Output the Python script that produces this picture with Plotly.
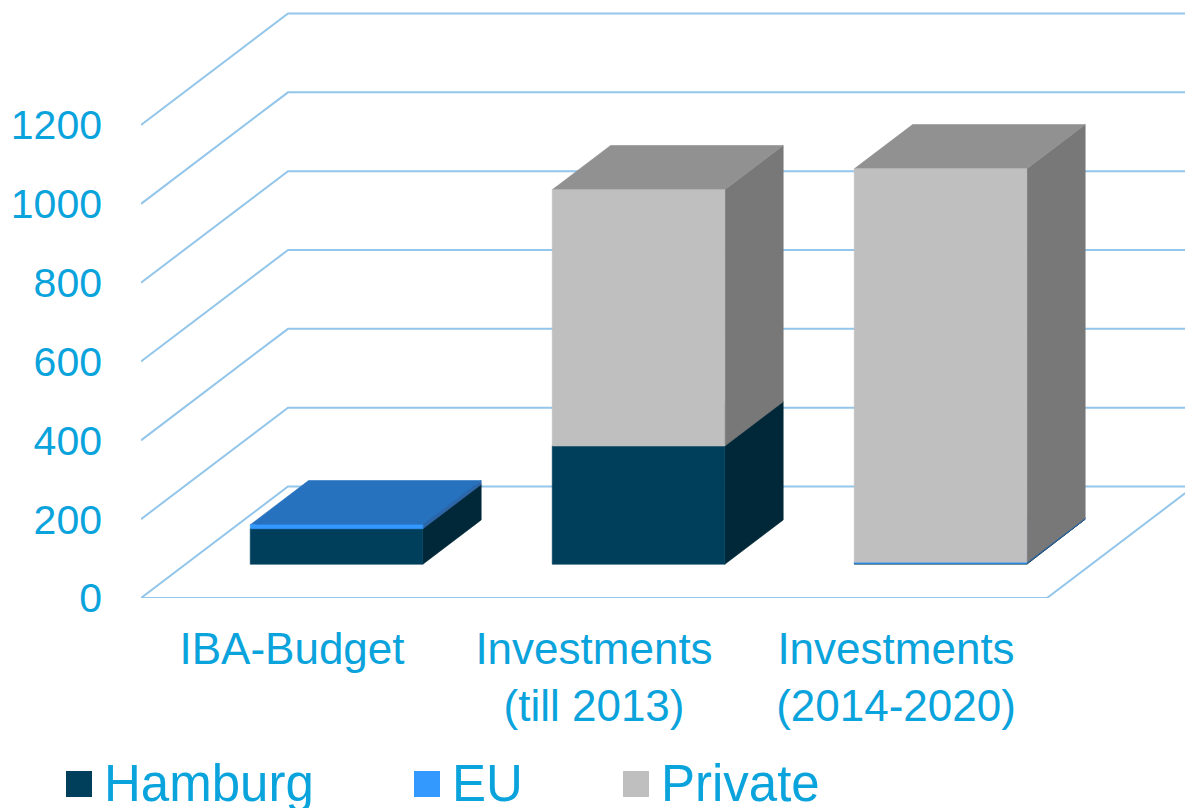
import plotly.graph_objects as go

categories = ["IBA-Budget", "Investments<br>(till 2013)", "Investments<br>(2014-2020)"]
series_names = ["Hamburg", "EU", "Private"]
hamburg = [90, 300, 2]
eu = [10, 0, 3]
private = [0, 650, 998]
y_ticks = [0, 200, 400, 600, 800, 1000, 1200]

TEXT = "#0AA3DC"
GRID = "#93C6EA"
front_col = {"Hamburg": "#003F5C", "EU": "#3399FF", "Private": "#BFBFBF"}
side_col = {"Hamburg": "#002838", "EU": "#2F66A8", "Private": "#787878"}
top_col = {"Hamburg": "#002838", "EU": "#2772BF", "Private": "#919191"}

W, H = 1185, 808
ML, MB = 141, 210
PX_X = 302.0
PX_Y = (598 - 125) / 1200
DX, DY = 147 / PX_X, 111.5 / PX_Y   # full depth of the 3D box in data units
XMIN, XMAX = -0.5, 2.5
D0, D1 = 0.303, 0.70                # bar depth extent
HALF = 86.3 / PX_X


def proj(x, y, d):
    return x + d * DX, y + d * DY


fig = go.Figure()

# Walls and floor
gx, gy = [], []
for v in y_ticks:
    a = proj(XMIN, v, 0)
    b = proj(XMIN, v, 1)
    c = proj(XMAX, v, 1)
    gx += [a[0], b[0], c[0], None]
    gy += [a[1], b[1], c[1], None]
a, b, c = proj(XMIN, 0, 0), proj(XMAX, 0, 0), proj(XMAX, 0, 1)
gx += [a[0], b[0], c[0]]
gy += [a[1], b[1], c[1]]
fig.add_trace(go.Scatter(x=gx, y=gy, mode="lines", line=dict(color=GRID, width=2),
                         cliponaxis=False, hoverinfo="skip", showlegend=False))

# Stacked 3D bars
stack = [0, 0, 0]
for name, vals in zip(series_names, [hamburg, eu, private]):
    fx, fy, sx, sy, tx, ty = [], [], [], [], [], []
    for i, v in enumerate(vals):
        if v == 0:
            continue
        y0, y1 = stack[i], stack[i] + v
        stack[i] = y1
        l, r = i - HALF, i + HALF
        pts = [proj(l, y0, D0), proj(r, y0, D0), proj(r, y1, D0), proj(l, y1, D0), proj(l, y0, D0)]
        fx += [p[0] for p in pts] + [None]
        fy += [p[1] for p in pts] + [None]
        pts = [proj(r, y0, D0), proj(r, y0, D1), proj(r, y1, D1), proj(r, y1, D0), proj(r, y0, D0)]
        sx += [p[0] for p in pts] + [None]
        sy += [p[1] for p in pts] + [None]
        pts = [proj(l, y1, D0), proj(r, y1, D0), proj(r, y1, D1), proj(l, y1, D1), proj(l, y1, D0)]
        tx += [p[0] for p in pts] + [None]
        ty += [p[1] for p in pts] + [None]
    for xs, ys, col in [(sx, sy, side_col[name]), (tx, ty, top_col[name]), (fx, fy, front_col[name])]:
        fig.add_trace(go.Scatter(x=xs, y=ys, mode="lines", fill="toself", fillcolor=col,
                                 line=dict(color=col, width=0.6), cliponaxis=False,
                                 name=name, hoverinfo="name", showlegend=False))

# Legend entries, one legend per entry so each sits at its own position
legend_x = [54, 402, 611]
legend_layout = {}
for k, name in enumerate(series_names):
    key = "legend" if k == 0 else f"legend{k + 1}"
    fig.add_trace(go.Scatter(x=[None], y=[None], mode="markers", name=name, legend=key,
                             marker=dict(symbol="square", size=16, color=front_col[name])))
    legend_layout[key] = dict(x=legend_x[k] / W, xref="container", y=1 - 741 / H, yref="container",
                              xanchor="left", yanchor="top", bgcolor="rgba(0,0,0,0)",
                              font=dict(family="Liberation Sans", size=51, color=TEXT),
                              itemwidth=40)

# Enlarged key squares behind the legend symbols
swatch_left = [66, 414, 623]
for k, name in enumerate(series_names):
    fig.add_shape(type="rect", xref="paper", yref="paper",
                  x0=(swatch_left[k] - ML) / (W - ML), x1=(swatch_left[k] + 26 - ML) / (W - ML),
                  y0=(598 - 797) / 598, y1=(598 - 771) / 598,
                  fillcolor=front_col[name], line_width=0, layer="above")

fig.update_layout(
    width=W, height=H, margin=dict(l=ML, r=0, t=0, b=MB, autoexpand=False),
    paper_bgcolor="white", plot_bgcolor="white", showlegend=True,
    font=dict(family="Liberation Sans", size=41, color=TEXT),
    xaxis=dict(range=[XMIN, XMIN + (W - ML) / PX_X], tickmode="array", tickvals=[0, 1, 2],
               ticktext=categories, showgrid=False, zeroline=False, showline=False,
               ticks="", ticklabelstandoff=21, tickangle=0,
               tickfont=dict(family="Liberation Sans", size=44, color=TEXT)),
    yaxis=dict(range=[0, 598 / PX_Y], tickmode="array", tickvals=y_ticks,
               showgrid=False, zeroline=False, showline=False, ticks="",
               ticklabelstandoff=38,
               tickfont=dict(family="Liberation Sans", size=41, color=TEXT)),
    **legend_layout,
)

fig.write_html("out.html", config={"displayModeBar": False},
               post_script="document.body.style.margin='0';document.body.style.overflow='hidden';")
